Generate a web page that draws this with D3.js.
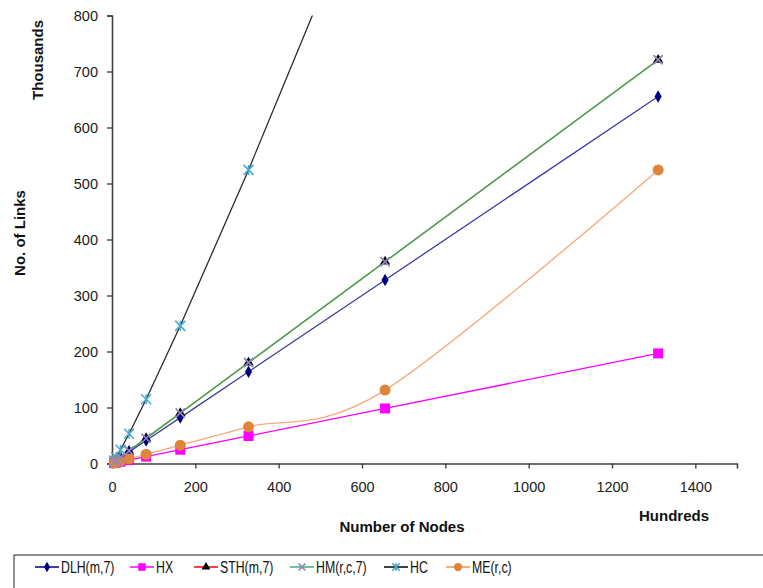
<!DOCTYPE html>
<html>
<head>
<meta charset="utf-8">
<script src="https://cdn.jsdelivr.net/npm/d3@7"></script>
<style>
  body { margin: 0; background: #fff; }
  svg { font-family: "Liberation Sans", Arial, sans-serif; }
</style>
</head>
<body>
<div id="chart"></div>
<script>
// node counts (hundreds)
var nodes = [5.12, 10.24, 20.48, 40.96, 81.92, 163.84, 327.68, 655.36, 1310.72]
// links (thousands), one array per topology
var dlh = [2.56, 5.12, 10.24, 20.48, 40.96, 81.92, 163.84, 327.68, 655.36]
var hx = [0.77, 1.54, 3.07, 6.14, 12.29, 24.58, 49.15, 98.3, 196.6]
var sth = [2.8, 5.6, 11.3, 22.5, 45.1, 90.1, 180.2, 360.4, 720.9]
var hm = [2.8, 5.6, 11.3, 22.5, 45.1, 90.1, 180.2, 360.4, 720.9]
var hc = [5.1, 11.3, 24.6, 53.2, 114.7, 245.8, 524.3, 1114.1]
var me = [1.0, 2.0, 4.1, 8.2, 16.4, 32.8, 65.5, 131.1, 524.3]
var xTicks = [0, 200, 400, 600, 800, 1000, 1200, 1400]
var yTicks = [0, 100, 200, 300, 400, 500, 600, 700, 800]

var series = [
  {name: "DLH(m,7)", values: dlh, line: "#3c3ca0", legendLine: "#000080", marker: "diamond", mcolor: "#000080", w: 1.3},
  {name: "HX", values: hx, line: "#ff00ff", legendLine: "#ff00ff", marker: "square", mcolor: "#ff00ff", w: 1.3},
  {name: "STH(m,7)", values: sth, line: "#ff0000", legendLine: "#ff0000", marker: "triangle", mcolor: "#000000", w: 0.8},
  {name: "HM(r,c,7)", values: hm, line: "#4f9f4f", legendLine: "#3cb371", marker: "x", mcolor: "#8f86bf", w: 1.6},
  {name: "HC", values: hc, line: "#2a2a2a", legendLine: "#000000", marker: "star", mcolor: "#45a9c9", w: 1.3},
  {name: "ME(r,c)", values: me, line: "#f2aa78", legendLine: "#e8955a", marker: "circle", mcolor: "#e0843c", smooth: true, w: 1.3}
]

var W = 763, H = 588
var svg = d3.select("#chart").append("svg").attr("width", W).attr("height", H)

var x = d3.scaleLinear().domain([0, 1500]).range([112, 737])
var y = d3.scaleLinear().domain([0, 800]).range([463.5, 15.5])

svg.append("defs").append("clipPath").attr("id", "plotclip")
  .append("rect").attr("x", 105).attr("y", 15.5).attr("width", 640).attr("height", 460)

// axes
var xAxis = svg.append("g").attr("transform", "translate(0,463.5)")
  .call(d3.axisBottom(x).tickValues(xTicks).tickFormat(d3.format("d")).tickSize(5).tickPadding(13))
var yAxis = svg.append("g").attr("transform", "translate(112,0)")
  .call(d3.axisLeft(y).tickValues(yTicks).tickFormat(d3.format("d")).tickSize(5).tickPadding(9))
;[xAxis, yAxis].forEach(function(a){
  a.select(".domain").attr("stroke", "#404040").attr("stroke-width", 1.6)
  a.selectAll(".tick line").attr("stroke", "#404040").attr("stroke-width", 1.4)
  a.selectAll(".tick text").attr("fill", "#1a1a1a").style("font-size", "14.5px")
    .style("font-family", "Liberation Sans, Arial, sans-serif")
})
xAxis.selectAll(".tick").filter(function(d){ return d === 0 }).select("line").remove()

// marker shapes
function drawMarker(g, type, color, cx, cy, s) {
  s = s || 1
  if (type == "diamond") {
    g.append("path").attr("d", d3.symbol().type(d3.symbolDiamond).size(44 * s)())
      .attr("transform", "translate(" + cx + "," + cy + ")").attr("fill", color)
  } else if (type == "square") {
    var r = 5 * s
    g.append("rect").attr("x", cx - r).attr("y", cy - r).attr("width", 2 * r).attr("height", 2 * r).attr("fill", color)
  } else if (type == "triangle") {
    g.append("path").attr("d", d3.symbol().type(d3.symbolTriangle).size(45 * s)())
      .attr("transform", "translate(" + cx + "," + cy + ")").attr("fill", color)
  } else if (type == "x") {
    var r = 4.5 * s
    g.append("path").attr("d", "M" + (cx - r) + "," + (cy - r) + "L" + (cx + r) + "," + (cy + r) +
      "M" + (cx - r) + "," + (cy + r) + "L" + (cx + r) + "," + (cy - r))
      .attr("stroke", color).attr("stroke-width", 1.5).attr("fill", "none")
  } else if (type == "star") {
    var r = 5 * s
    g.append("path").attr("d", "M" + (cx - r) + "," + (cy - r) + "L" + (cx + r) + "," + (cy + r) +
      "M" + (cx - r) + "," + (cy + r) + "L" + (cx + r) + "," + (cy - r) +
      "M" + cx + "," + (cy - r) + "L" + cx + "," + (cy + r))
      .attr("stroke", color).attr("stroke-width", 1.5).attr("fill", "none")
  } else if (type == "circle") {
    g.append("circle").attr("cx", cx).attr("cy", cy).attr("r", 5.5 * s).attr("fill", color)
  }
}

var plot = svg.append("g").attr("clip-path", "url(#plotclip)")

// draw order so STH sits under HM like in the reference
var order = [2, 3, 0, 4, 1, 5]
order.forEach(function(i){
  var s = series[i]
  var pts = s.values.map(function(v, j){ return [nodes[j], v] })
  var line = d3.line().x(function(d){ return x(d[0]) }).y(function(d){ return y(d[1]) })
    .curve(s.smooth ? d3.curveCatmullRom.alpha(0) : d3.curveLinear)
  plot.append("path").datum(pts).attr("d", line)
    .attr("fill", "none").attr("stroke", s.line).attr("stroke-width", s.w)
})
order.forEach(function(i){
  var s = series[i]
  var g = plot.append("g")
  s.values.forEach(function(v, j){
    if (v <= 800) drawMarker(g, s.marker, s.mcolor, x(nodes[j]), y(v))
  })
})
// HM crosses drawn on top of the triangles
var hmTop = plot.append("g")
hm.forEach(function(v, j){ drawMarker(hmTop, "x", "#8f86bf", x(nodes[j]), y(v)) })

// axis titles
function title(t, tr) {
  svg.append("text").attr("transform", tr).attr("text-anchor", "middle")
    .style("font-size", "15px").style("font-weight", "bold").attr("fill", "#111").text(t)
}
title("Thousands", "translate(43,60) rotate(-90)")
title("No. of Links", "translate(25,233) rotate(-90)")
title("Number of Nodes", "translate(402,532)")
title("Hundreds", "translate(674,521)")

// legend
var legend = svg.append("g")
legend.append("rect").attr("x", 14).attr("y", 555).attr("width", 760).attr("height", 40)
  .attr("fill", "#fff").attr("stroke", "#222").attr("stroke-width", 1)
var legendX = [35, 130, 194, 290, 384, 446]
series.forEach(function(s, i){
  var lx = legendX[i]
  legend.append("line").attr("x1", lx).attr("x2", lx + 24).attr("y1", 567).attr("y2", 567)
    .attr("stroke", s.legendLine).attr("stroke-width", 1.5)
  drawMarker(legend, s.marker, s.mcolor, lx + 12, 567, 0.75)
  legend.append("text").attr("transform", "translate(" + (lx + 26) + ",572.5) scale(0.77,1)")
    .style("font-size", "16px").attr("fill", "#111").text(s.name)
})
</script>
</body>
</html>
